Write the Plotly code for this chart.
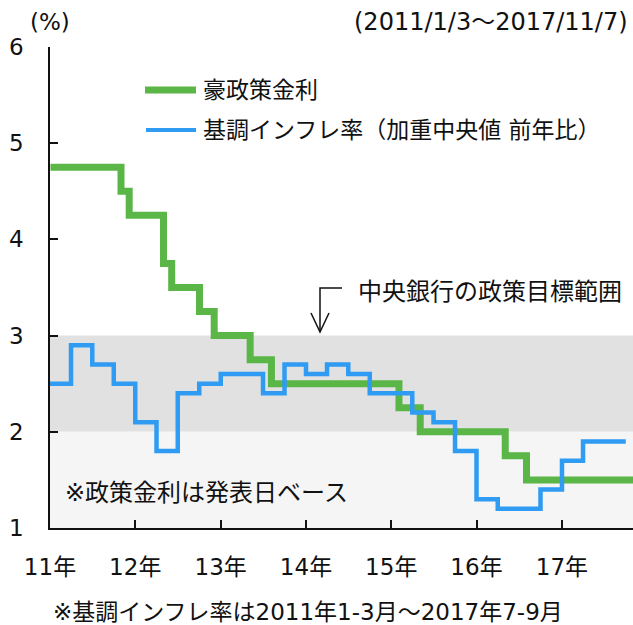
import plotly.graph_objects as go
import pandas as pd

# ---- data ----
rate_dates = ["2011-01-03", "2011-11-01", "2011-12-06", "2012-05-01", "2012-06-05",
              "2012-10-02", "2012-12-04", "2013-05-07", "2013-08-06", "2015-02-03",
              "2015-05-05", "2016-05-03", "2016-08-02"]
rate_values = [4.75, 4.50, 4.25, 3.75, 3.50, 3.25, 3.00, 2.75, 2.50, 2.25, 2.00, 1.75, 1.50]
rate_end = "2017-11-07"

infl_start = "2011-01-01"
infl_values = [2.5, 2.9, 2.7, 2.5, 2.1, 1.8, 2.4, 2.5, 2.6, 2.6, 2.4, 2.7, 2.6, 2.7,
               2.6, 2.4, 2.4, 2.2, 2.1, 1.8, 1.3, 1.2, 1.2, 1.4, 1.7, 1.9, 1.9]

target_low, target_high = 2, 3
y_min, y_max = 1, 6
y_ticks = [1, 2, 3, 4, 5, 6]
year_ticks = ["2011-01-01", "2012-01-01", "2013-01-01", "2014-01-01",
              "2015-01-01", "2016-01-01", "2017-01-01"]
year_labels = ["11年", "12年", "13年", "14年", "15年", "16年", "17年"]
x_range = ["2011-01-01", "2017-11-01"]

names = ["豪政策金利", "基調インフレ率（加重中央値 前年比）"]
GREEN = "#5ab647"
BLUE = "#2f9bf3"
FONT = "DejaVu Sans, Noto Sans CJK JP"
FS = 23

# ---- build series ----
rx = list(pd.to_datetime(rate_dates)) + [pd.Timestamp(rate_end)]
ry = rate_values + [rate_values[-1]]
q = pd.date_range(infl_start, periods=len(infl_values) + 1, freq="QS")
ix = list(q)
iy = infl_values + [infl_values[-1]]

fig = go.Figure()
fig.add_trace(go.Scatter(x=rx, y=ry, mode="lines", line=dict(color=GREEN, width=7, shape="hv"),
                         name=names[0], showlegend=False))
fig.add_trace(go.Scatter(x=ix, y=iy, mode="lines", line=dict(color=BLUE, width=4.5, shape="hv"),
                         name=names[1], showlegend=False))

# target band
fig.add_shape(type="rect", xref="x", yref="y", x0=x_range[0], x1=x_range[1],
              y0=target_low, y1=target_high, fillcolor="#e1e1e1", line_width=0, layer="below")
fig.add_shape(type="rect", xref="x", yref="y", x0=x_range[0], x1=x_range[1],
              y0=y_min, y1=target_low, fillcolor="#f5f5f5", line_width=0, layer="below")

W, H = 633, 625
L, R, T, B = 50, 0, 47, 97
pw, ph = W - L - R, H - T - B
def px(x): return (x - L) / pw
def py(y): return (H - B - y) / ph

# custom legend
fig.add_shape(type="line", xref="paper", yref="paper", x0=px(145), x1=px(196), y0=py(90), y1=py(90),
              line=dict(color=GREEN, width=7))
fig.add_shape(type="line", xref="paper", yref="paper", x0=px(146), x1=px(196), y0=py(130), y1=py(130),
              line=dict(color=BLUE, width=4))
fig.add_annotation(xref="paper", yref="paper", x=px(201), y=py(90), text=names[0], showarrow=False,
                   xanchor="left", yanchor="middle", font=dict(size=FS, color="#111"))
fig.add_annotation(xref="paper", yref="paper", x=px(201), y=py(130), text=names[1], showarrow=False,
                   xanchor="left", yanchor="middle", font=dict(size=FS, color="#111"))

# target label + arrow
fig.add_annotation(xref="paper", yref="paper", x=px(356), y=py(292), text="中央銀行の政策目標範囲",
                   showarrow=False, xanchor="left", yanchor="middle", font=dict(size=24, color="#111"))
fig.add_shape(type="path", xref="paper", yref="paper",
              path=f"M {px(342)} {py(288)} L {px(320)} {py(288)} L {px(320)} {py(332)}",
              line=dict(color="#111", width=1.5))
fig.add_shape(type="path", xref="paper", yref="paper",
              path=f"M {px(311)} {py(313)} L {px(320)} {py(332)} L {px(329)} {py(313)}",
              line=dict(color="#111", width=1.5))

fig.add_annotation(xref="paper", yref="paper", x=px(63), y=py(493), text="※政策金利は発表日ベース",
                   showarrow=False, xanchor="left", yanchor="middle", font=dict(size=24, color="#111"))
fig.add_annotation(xref="paper", yref="paper", x=px(50), y=py(22), text="(%)",
                   showarrow=False, xanchor="center", yanchor="middle", font=dict(size=FS, color="#111"))
fig.add_annotation(xref="paper", yref="paper", x=px(630), y=py(22), text="(2011/1/3～2017/11/7)",
                   showarrow=False, xanchor="right", yanchor="middle", font=dict(size=24, color="#111"))
fig.add_annotation(xref="paper", yref="paper", x=px(308), y=py(612),
                   text="※基調インフレ率は2011年1-3月～2017年7-9月",
                   showarrow=False, xanchor="center", yanchor="middle", font=dict(size=FS, color="#111"))

fig.update_layout(
    width=W, height=H, margin=dict(l=L, r=R, t=T, b=B, autoexpand=False),
    paper_bgcolor="white", plot_bgcolor="white",
    font=dict(family=FONT, size=FS, color="#111"),
    showlegend=False,
)
fig.update_xaxes(type="date", range=x_range, tickvals=year_ticks, ticktext=year_labels,
                 showgrid=False, zeroline=False, showline=True, linecolor="#111", linewidth=1.5,
                 ticks="inside", ticklen=8, tickwidth=1.5, tickcolor="#111", ticklabelstandoff=18,
                 tickfont=dict(size=FS), automargin=False)
fig.update_yaxes(range=[y_min, y_max], tickvals=y_ticks, showgrid=False, zeroline=False,
                 showline=True, linecolor="#111", linewidth=1.5,
                 ticks="inside", ticklen=8, tickwidth=1.5, tickcolor="#111", ticklabelstandoff=20,
                 tickfont=dict(size=FS), automargin=False)

fig.write_html("out.html", config={"displayModeBar": False},
               post_script="document.body.style.margin='0px';")
